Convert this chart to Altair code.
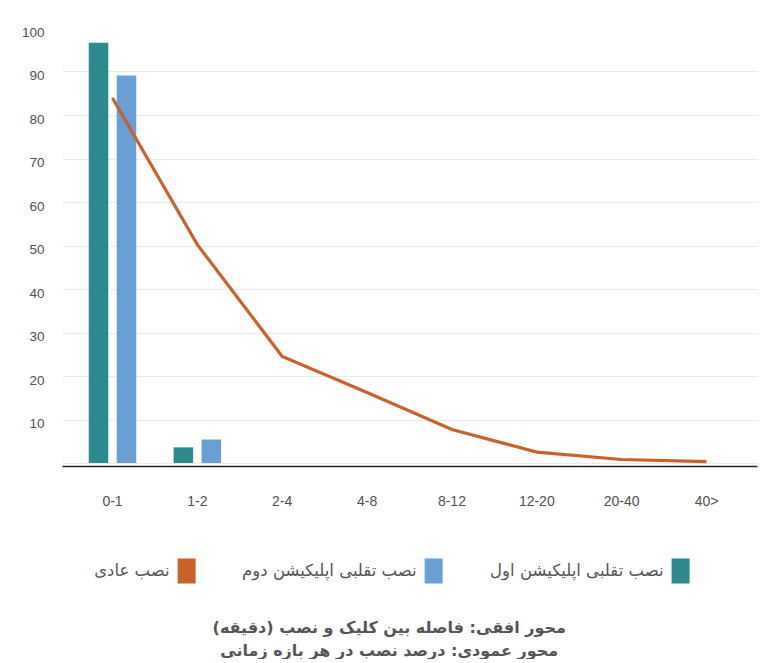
import altair as alt
import pandas as pd

RLM = "\u200f"

categories = ["0-1", "1-2", "2-4", "4-8", "8-12", "12-20", "20-40", "40>"]
app1_values = [96.6, 3.6, 0, 0, 0, 0, 0, 0]
app2_values = [89.1, 5.4, 0, 0, 0, 0, 0, 0]
normal_values = [83.9, 50.2, 24.5, 16.2, 7.7, 2.5, 0.8, 0.3]

series_app1 = "نصب تقلبی اپلیکیشن اول"
series_app2 = "نصب تقلبی اپلیکیشن دوم"
series_normal = "نصب عادی"

color_app1 = "#2f8a8f"
color_app2 = "#6a9fd5"
color_normal = "#c8622b"

title_lines = [
    RLM + "محور افقی: فاصله بین کلیک و نصب (دقیقه)" + RLM,
    RLM + "محور عمودی: درصد نصب در هر بازه زمانی" + RLM,
]

y_ticks = [0, 10, 20, 30, 40, 50, 60, 70, 80, 90, 100]

bar_rows = []
for c, v1, v2 in zip(categories, app1_values, app2_values):
    bar_rows.append({"category": c, "series": series_app1, "value": v1})
    bar_rows.append({"category": c, "series": series_app2, "value": v2})
bar_df = pd.DataFrame(bar_rows)

line_df = pd.DataFrame({"category": categories, "value": normal_values})

x_axis = alt.Axis(
    title=None, labelAngle=0, ticks=False, tickSize=0, grid=False,
    labelPadding=28, labelFontSize=14, labelColor="#505050",
    labelFont="Liberation Sans", domainColor="#222222", domainWidth=1.3,
    offset=3,
)
x_scale = alt.Scale(paddingInner=0.44, paddingOuter=0.315)

y_axis = alt.Axis(
    title=None, values=y_ticks, ticks=False, domain=False,
    labelPadding=18, labelFontSize=13.5, labelColor="#505050",
    labelFont="Liberation Sans",
    labelExpr="datum.value == 0 ? '' : datum.label",
    labelOffset=4,
    gridColor={"condition": {"test": "datum.value == 100", "value": "transparent"},
               "value": "#ebebeb"},
    gridWidth=1,
)
y_scale = alt.Scale(domain=[0, 100], nice=False)

bars = alt.Chart(bar_df).mark_bar().encode(
    x=alt.X("category:N", sort=categories, scale=x_scale, axis=x_axis),
    xOffset=alt.XOffset("series:N", sort=[series_app1, series_app2],
                        scale=alt.Scale(paddingInner=0.3, paddingOuter=0)),
    y=alt.Y("value:Q", scale=y_scale, axis=y_axis),
    color=alt.Color("series:N",
                    scale=alt.Scale(domain=[series_app1, series_app2],
                                    range=[color_app1, color_app2]),
                    legend=None),
)

line = alt.Chart(line_df).mark_line(color=color_normal, strokeWidth=3.2).encode(
    x=alt.X("category:N", sort=categories),
    y=alt.Y("value:Q"),
)

main = alt.layer(bars, line).properties(width=695, height=435)

legend_order = [series_normal, series_app2, series_app1]
legend_colors = [color_normal, color_app2, color_app1]
legend_df = pd.DataFrame({"series": legend_order})

legend_base = alt.Chart(legend_df).encode(
    x=alt.X("series:N", sort=legend_order,
            scale=alt.Scale(type="point", padding=0.407, align=0.62),
            axis=None),
    y=alt.value(15),
)
legend_rects = legend_base.mark_point(
    shape="M-0.72,-1H0.72V1H-0.72Z", filled=True, size=625, opacity=1
).encode(
    color=alt.Color("series:N",
                    scale=alt.Scale(domain=legend_order, range=legend_colors),
                    legend=None),
)
legend_text = legend_base.mark_text(
    align="right", dx=-17, fontSize=16.5, font="DejaVu Sans", color="#555555"
).encode(text="series:N")

legend_chart = alt.layer(legend_rects, legend_text).properties(width=695, height=30)

chart = alt.vconcat(main, legend_chart, spacing=48).resolve_scale(
    x="independent", color="independent"
).properties(
    title=alt.TitleParams(
        text=title_lines, orient="bottom", anchor="middle", fontSize=16,
        fontWeight="bold", font="DejaVu Sans", color="#555555",
        lineHeight=23, offset=34,
    ),
    padding={"left": 13, "top": 17, "right": 3, "bottom": 0},
).configure_view(strokeWidth=0)

chart.save("out.html", embed_options={"renderer": "svg", "actions": False})
